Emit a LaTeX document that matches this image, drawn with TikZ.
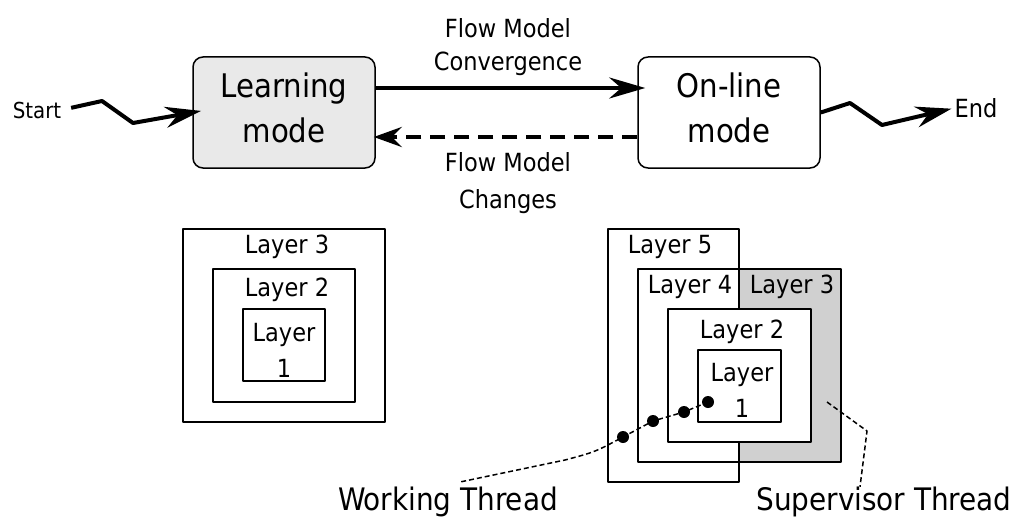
\documentclass[tikz,border=0pt]{standalone}
\usepackage{fontspec}
\setmainfont{DejaVu Sans Condensed}
\usetikzlibrary{arrows.meta}

\begin{document}
\begin{tikzpicture}[x=1pt, y=-1pt, line join=round,
	>={Stealth[length=36pt,width=21pt,inset=12pt]},
	modebox/.style={draw, line width=1.5pt, rounded corners=10pt, minimum width=182pt, minimum height=111pt, align=center, text depth=9pt, font=\fontsize{32.5}{45}\selectfont},
	lbl/.style={font=\fontsize{25}{34}\selectfont, align=center, inner sep=0pt},
	layer/.style={font=\fontsize{25}{36}\selectfont, align=center, inner sep=0pt},
	thread/.style={font=\fontsize{31}{34}\selectfont, inner sep=0pt},
	layerline/.style={line width=1.6pt},
	flow/.style={line width=4pt},
	threadline/.style={line width=1.5pt, dash pattern=on 5pt off 3pt},
	dot/.style={circle, fill, inner sep=0pt, minimum size=12pt}]
	\useasboundingbox (0,0) rectangle (1024,532);
	% modes
	\node[modebox, fill=gray!17] (learn) at (284,112.5) {Learning\\mode};
	\node[modebox] (online) at (729,112.5) {On-line\\mode};
	\node[lbl, font=\fontsize{22}{24}\selectfont] (start) at (37,110) {Start};
	\node[lbl] (fin) at (976,108) {End};
	\coordinate (s1) at (102,101); \coordinate (s2) at (133,123);
	\coordinate (e1) at (850,103); \coordinate (e2) at (882,125);
	\draw[flow, ->, shorten <=10pt, shorten >=-9pt] (start.east) -- (s1) -- (s2) -- (learn.west);
	\draw[flow, ->, shorten >=3pt] (online.east) -- (e1) -- (e2) -- (fin.west);
	\draw[flow, ->, shorten >=-8pt] ([yshift=24.5pt]learn.east) -- ([yshift=24.5pt]online.west);
	\draw[line width=4.5pt, dash pattern=on 15pt off 9pt, -{Stealth[length=28pt,width=20pt,inset=10pt]}, shorten >=-2pt] ([yshift=-24.5pt]online.west) -- ([yshift=-24.5pt]learn.east);
	\node[lbl] (conv) at (508,47) {Flow Model\\[-1pt]Convergence};
	\node[lbl] (chg) at (508,183) {Flow Model\\[3pt]Changes};
	% layers, learning
	\draw[layerline] (183,229) rectangle (385,422);
	\draw[layerline] (213,269) rectangle (355,402);
	\draw[layerline] (243,309) rectangle (325,381);
	\node[layer] (la3) at (287,247) {Layer 3};
	\node[layer] (la2) at (287,290) {Layer 2};
	\node[layer] (la1) at (284,350) {Layer\\1};
	% layers, on-line
	\draw[layerline] (608,229) rectangle (739,482);
	\fill[white] (638,269) rectangle (739,462);
	\fill[gray!37] (739,269) rectangle (841,462);
	\draw[layerline] (638,269) rectangle (841,462);
	\draw[layerline] (739,229) -- (739,482);
	\draw[layerline, fill=white] (668,309) rectangle (811,442);
	\draw[layerline] (698,350) rectangle (781,422);
	\node[layer] (lb5) at (670,247) {Layer 5};
	\node[layer] (lb4) at (690,287) {Layer 4};
	\node[layer] (lb3) at (792,287) {Layer 3};
	\node[layer] (lb2) at (742,332) {Layer 2};
	\node[layer] (lb1) at (742,390) {Layer\\1};
	% threads
	\node[dot] (w1) at (708,402) {};
	\node[dot] (w2) at (684,412) {};
	\node[dot] (w3) at (653,421) {};
	\node[dot] (w4) at (623,437) {};
	\node[thread] (wthr) at (448,502) {Working Thread};
	\node[thread] (sthr) at (884,502) {Supervisor Thread};
	\coordinate (wb) at (565,460); \coordinate (wt) at (460,482);
	\coordinate (sv0) at (827,402); \coordinate (sv1) at (867,431);
	\draw[threadline] (w1.center) -- (w2.center) -- (w3.center) -- (w4.center) .. controls (595,452) .. (wb) -- (wt);
	\draw[threadline] (sv0) -- (sv1) -- ([xshift=-24pt]sthr.north);
\end{tikzpicture}
\end{document}
